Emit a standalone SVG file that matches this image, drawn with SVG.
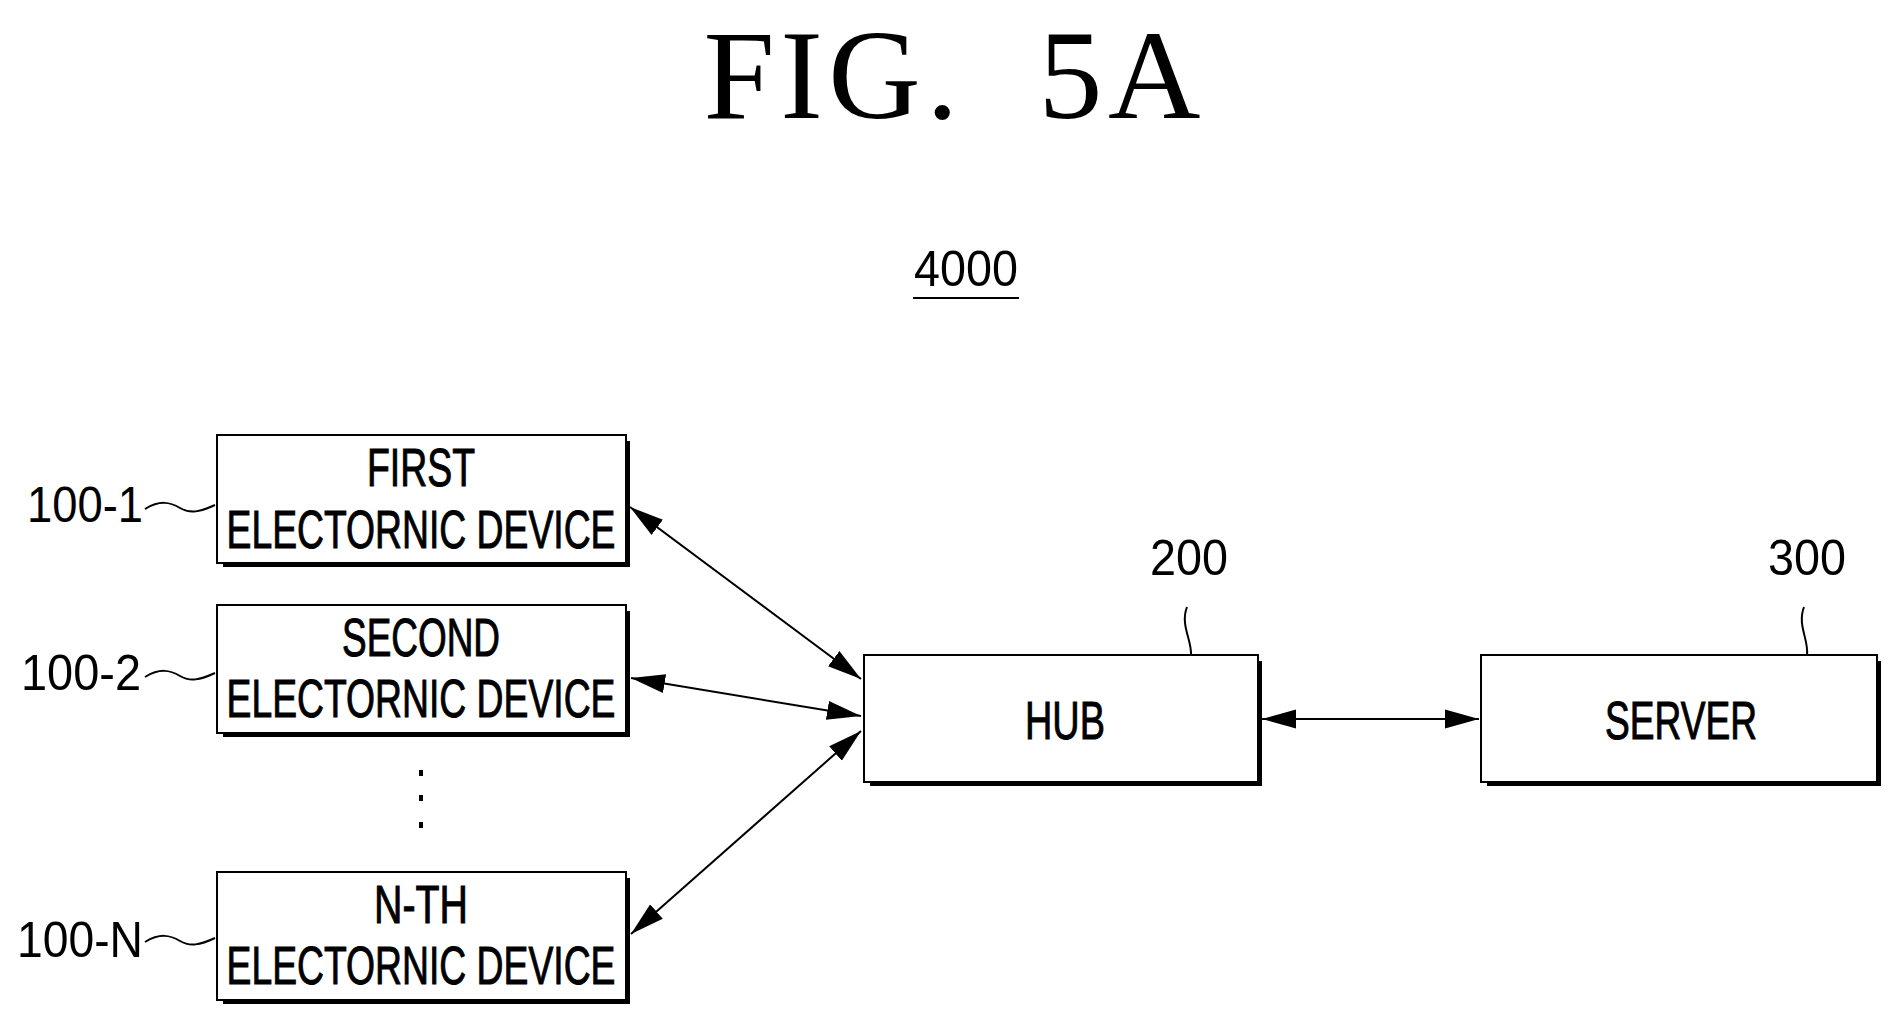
<svg xmlns="http://www.w3.org/2000/svg" width="1901" height="1023" viewBox="0 0 1901 1023">
<style>
.box{fill:#fff;stroke:#000;stroke-width:2}
.sh{fill:none;stroke:#000;stroke-width:4}
.t{font-family:"Liberation Sans",Arial,sans-serif;font-size:54px;text-anchor:middle;fill:#000;stroke:#000;stroke-width:1}
.l{font-family:"Liberation Sans",Arial,sans-serif;font-size:50px;fill:#000}
.c{stroke:#000;stroke-width:2;fill:none}
</style>
<defs>
<marker id="b" viewBox="0 0 10 10" refX="10" refY="5" markerWidth="34" markerHeight="34" markerUnits="userSpaceOnUse" orient="auto-start-reverse"><path d="M0,2.2 L10,5 L0,7.8 z" fill="#000"/></marker>
</defs>
<rect width="1901" height="1023" fill="#fff"/>
<text x="952" y="118" font-family="Liberation Serif,serif" font-size="128" text-anchor="middle" textLength="497" lengthAdjust="spacing" xml:space="preserve">FIG.  5A</text>
<text x="966" y="286" class="l" text-anchor="middle" textLength="104" lengthAdjust="spacingAndGlyphs">4000</text>
<line x1="913" y1="298" x2="1019" y2="298" stroke="#000" stroke-width="2"/>
<g id="n1">
<path class="sh" d="M223,565 H628 V441"/><rect class="box" x="217" y="435" width="409" height="128"/>
<text class="t" x="421" y="486" textLength="108" lengthAdjust="spacingAndGlyphs">FIRST</text>
<text class="t" x="421" y="548" textLength="389" lengthAdjust="spacingAndGlyphs">ELECTORNIC DEVICE</text>
<text class="l" x="27" y="522" textLength="116" lengthAdjust="spacingAndGlyphs">100-1</text>
<path class="c" d="M145,509 C160,500 170,502 180,508 C190,514 200,512 215,505"/>
</g>
<g id="n2">
<path class="sh" d="M223,735 H628 V611"/><rect class="box" x="217" y="605" width="409" height="128"/>
<text class="t" x="421" y="656" textLength="158" lengthAdjust="spacingAndGlyphs">SECOND</text>
<text class="t" x="421" y="717" textLength="389" lengthAdjust="spacingAndGlyphs">ELECTORNIC DEVICE</text>
<text class="l" x="21" y="690" textLength="120" lengthAdjust="spacingAndGlyphs">100-2</text>
<path class="c" d="M145,677 C160,668 170,670 180,676 C190,682 200,680 215,673"/>
</g>
<g id="dots" fill="#000"><rect x="419" y="770" width="4" height="6"/><rect x="419" y="795" width="4" height="6"/><rect x="419" y="822" width="4" height="6"/></g>
<g id="nN">
<path class="sh" d="M223,1002 H628 V878"/><rect class="box" x="217" y="872" width="409" height="128"/>
<text class="t" x="421" y="923" textLength="94" lengthAdjust="spacingAndGlyphs">N-TH</text>
<text class="t" x="421" y="984" textLength="389" lengthAdjust="spacingAndGlyphs">ELECTORNIC DEVICE</text>
<text class="l" x="17" y="957" textLength="126" lengthAdjust="spacingAndGlyphs">100-N</text>
<path class="c" d="M145,942 C160,933 170,935 180,941 C190,947 200,945 215,938"/>
</g>
<g id="hub">
<path class="sh" d="M870,784 H1260 V661"/><rect class="box" x="864" y="655" width="394" height="127"/>
<text class="t" x="1065" y="739" textLength="80" lengthAdjust="spacingAndGlyphs">HUB</text>
<text class="l" x="1189" y="575" text-anchor="middle" textLength="78" lengthAdjust="spacingAndGlyphs">200</text>
<path class="c" d="M1187,607 C1180,625 1192,640 1191,655"/>
</g>
<g id="server">
<path class="sh" d="M1487,784 H1879 V661"/><rect class="box" x="1481" y="655" width="396" height="127"/>
<text class="t" x="1681" y="739" textLength="152" lengthAdjust="spacingAndGlyphs">SERVER</text>
<text class="l" x="1807" y="575" text-anchor="middle" textLength="78" lengthAdjust="spacingAndGlyphs">300</text>
<path class="c" d="M1804,607 C1797,625 1809,640 1807,655"/>
</g>
<g id="connectors" class="c">
<line x1="630" y1="507" x2="861" y2="679" marker-start="url(#b)" marker-end="url(#b)"/>
<line x1="631" y1="678" x2="861" y2="716" marker-start="url(#b)" marker-end="url(#b)"/>
<line x1="631" y1="934" x2="861" y2="731" marker-start="url(#b)" marker-end="url(#b)"/>
<line x1="1262" y1="719" x2="1479" y2="719" marker-start="url(#b)" marker-end="url(#b)"/>
</g>
</svg>
